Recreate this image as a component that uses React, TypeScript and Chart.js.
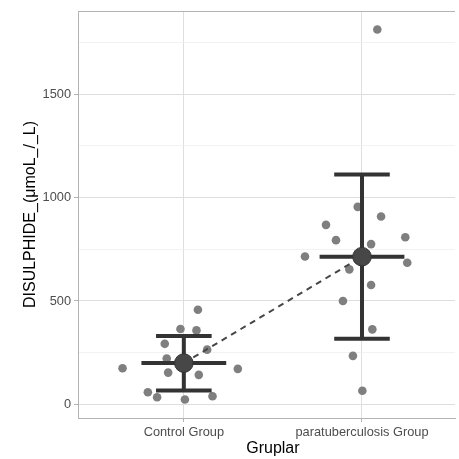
import React, { useEffect, useRef } from "react";
import { Chart, registerables } from "chart.js";

Chart.register(...registerables);

const categories = ["Control Group", "paratuberculosis Group"];
const controlValues = [458, 365, 358, 293, 265, 222, 175, 172, 154, 143, 59, 35, 40, 24];
const controlJitter = [0.079, -0.019, 0.071, -0.107, 0.131, -0.096, -0.344, 0.303, -0.088, 0.084, -0.202, -0.15, 0.161, 0.006];
const paraValues = [955, 908, 868, 794, 808, 775, 715, 685, 653, 577, 500, 363, 235, 66, 1812];
const paraJitter = [-0.024, 0.107, -0.202, -0.146, 0.243, 0.051, -0.32, 0.254, -0.071, 0.051, -0.107, 0.058, -0.051, 0.002, 0.086];
const means = [200, 714];
const sdLow = [67, 317];
const sdHigh = [331, 1111];
const yTickValues = [0, 500, 1000, 1500];
const yMinorValues = [250, 750, 1250, 1750];
const xTitle = "Gruplar";
const yTitle = "DISULPHIDE_(μmoL_/_L)";

const CAP_HALF = 0.156;
const MEAN_HALF = 0.238;
const FONT = "'Liberation Sans', Arial, sans-serif";

const extras = {
  id: "extras",
  afterDraw(chart: any) {
    const { ctx, chartArea, scales } = chart;
    ctx.save();
    ctx.strokeStyle = "#B3B3B3";
    ctx.lineWidth = 1;
    ctx.beginPath();
    ctx.moveTo(chartArea.left, chartArea.top + 0.5);
    ctx.lineTo(chartArea.right, chartArea.top + 0.5);
    ctx.stroke();
    ctx.fillStyle = "#000";
    ctx.font = `16px ${FONT}`;
    ctx.textAlign = "center";
    ctx.textBaseline = "middle";
    const cx = scales.x.getPixelForValue((1 + categories.length) / 2);
    ctx.fillText(xTitle, cx, 449);
    ctx.restore();
  },
};

export default function App() {
  const ref = useRef<HTMLCanvasElement>(null);
  useEffect(() => {
    if (!ref.current) return;
    Chart.defaults.font.family = FONT;
    const pts = (vals: number[], jit: number[], c: number) =>
      vals.map((v, i) => ({ x: c + jit[i], y: v }));
    const errData: any[] = [];
    means.forEach((m, i) => {
      const c = i + 1;
      errData.push({ x: c, y: sdLow[i] }, { x: c, y: sdHigh[i] }, { x: c, y: null });
      errData.push({ x: c - CAP_HALF, y: sdHigh[i] }, { x: c + CAP_HALF, y: sdHigh[i] }, { x: c, y: null });
      errData.push({ x: c - CAP_HALF, y: sdLow[i] }, { x: c + CAP_HALF, y: sdLow[i] }, { x: c, y: null });
      errData.push({ x: c - MEAN_HALF, y: m }, { x: c + MEAN_HALF, y: m }, { x: c, y: null });
    });
    const isMajor = (v: any) => yTickValues.includes(Number(v));
    const chart = new Chart(ref.current, {
      type: "scatter",
      data: {
        datasets: [
          {
            data: means.map((m, i) => ({ x: i + 1, y: m })),
            pointRadius: 9.3,
            backgroundColor: "#474747",
            borderColor: "#333333",
            borderWidth: 1,
            order: 0,
          } as any,
          {
            data: errData,
            showLine: true,
            spanGaps: false,
            borderColor: "#333333",
            borderWidth: 4,
            borderCapStyle: "butt",
            pointRadius: 0,
            order: 1,
          },
          {
            data: means.map((m, i) => ({ x: i + 1, y: m })),
            showLine: true,
            borderColor: "#474747",
            borderWidth: 2,
            borderDash: [6, 5],
            pointRadius: 0,
            order: 2,
          },
          {
            data: [...pts(controlValues, controlJitter, 1), ...pts(paraValues, paraJitter, 2)],
            pointRadius: 4.3,
            backgroundColor: "#7F7F7F",
            borderWidth: 0,
            order: 3,
          },
        ],
      },
      options: {
        animation: false,
        responsive: false,
        devicePixelRatio: 1,
        layout: { autoPadding: false, padding: { top: 11, right: 4, left: 0, bottom: 0 } },
        plugins: { legend: { display: false }, tooltip: { enabled: false } },
        scales: {
          x: {
            type: "linear",
            min: 0.406,
            max: 2.522,
            afterBuildTicks: (s: any) => {
              s.ticks = categories.map((_, i) => ({ value: i + 1 }));
            },
            afterFit: (s: any) => {
              s.height = 41;
              s.paddingLeft = 0;
              s.paddingRight = 0;
            },
            ticks: {
              autoSkip: false,
              maxRotation: 0,
              padding: 3,
              color: "#4D4D4D",
              font: { size: 12.8 },
              callback: (v: any) => categories[Math.round(Number(v)) - 1] ?? "",
            },
            grid: { color: "#DEDEDE", lineWidth: 1, tickLength: 4, tickColor: "#B3B3B3" },
            border: { display: true, color: "#B3B3B3", width: 1 },
          },
          y: {
            type: "linear",
            min: -65.4,
            max: 1901.4,
            afterBuildTicks: (s: any) => {
              s.ticks = [...yTickValues, ...yMinorValues].sort((a, b) => a - b).map((v) => ({ value: v }));
            },
            afterFit: (s: any) => {
              s.width = 78;
            },
            ticks: {
              autoSkip: false,
              padding: 3,
              color: "#4D4D4D",
              font: { size: 12.8 },
              callback: (v: any) => (isMajor(v) ? String(v) : ""),
            },
            grid: {
              color: (c: any) => (isMajor(c.tick?.value) ? "#DEDEDE" : "#EFEFEF"),
              lineWidth: (c: any) => (isMajor(c.tick?.value) ? 1 : 0.8),
              tickLength: 4,
              tickColor: (c: any) => (isMajor(c.tick?.value) ? "#B3B3B3" : "rgba(0,0,0,0)"),
            },
            border: { display: true, color: "#B3B3B3", width: 1 },
            title: {
              display: true,
              text: yTitle,
              color: "#000",
              font: { size: 16 },
              padding: { top: 21, bottom: 0 },
            },
          },
        },
      },
      plugins: [extras],
    } as any);
    return () => chart.destroy();
  }, []);
  return (
    <div style={{ position: "fixed", left: 0, top: 0, width: 459, height: 459, background: "#fff" }}>
      <canvas ref={ref} width={459} height={459} />
    </div>
  );
}
